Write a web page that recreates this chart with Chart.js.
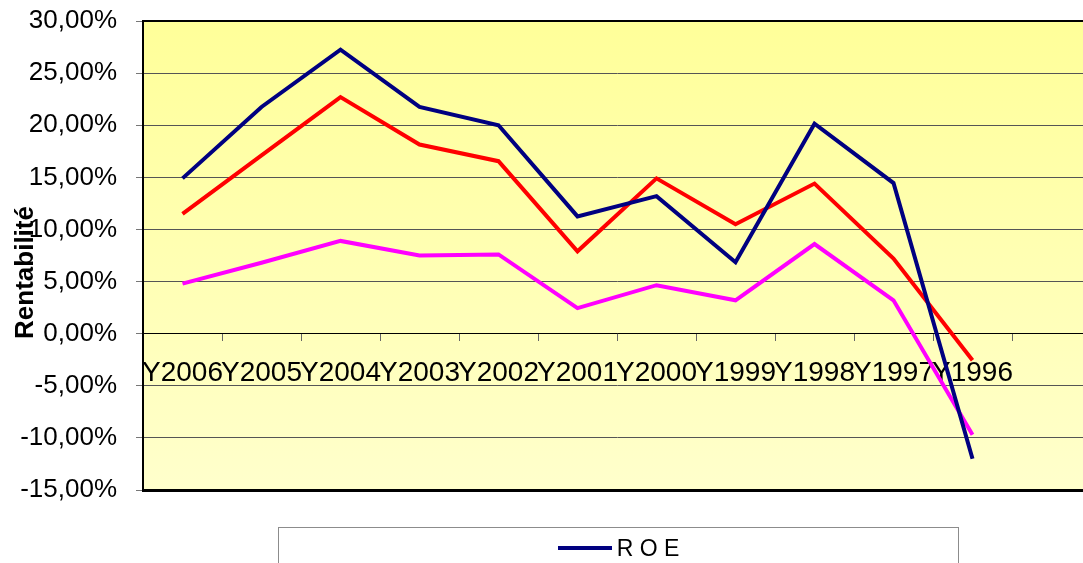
<!DOCTYPE html>
<html>
<head>
<meta charset="utf-8">
<script src="https://cdn.jsdelivr.net/npm/chart.js@4/dist/chart.umd.min.js"></script>
<style>
    html, body { margin: 0; padding: 0; background: #fff; overflow: hidden; }
    #wrap { position: relative; width: 1100px; height: 563px; }
    #legend {
        position: absolute; left: 278px; top: 527px; width: 681px; height: 110px;
        border: 1px solid #8c8c8c; box-sizing: border-box; padding-top: 7px;
        font-family: "Liberation Sans", Arial, sans-serif; font-size: 23px; color: #000;
    }
    .leg-row { display: flex; justify-content: center; align-items: center; height: 26px; }
    .leg-line { width: 54px; height: 4px; margin-right: 5px; }
</style>
</head>
<body>
<div id="wrap">
    <canvas id="chart"></canvas>
    <div id="legend"></div>
</div>
<script>
const categories = ['Y2006', 'Y2005', 'Y2004', 'Y2003', 'Y2002', 'Y2001', 'Y2000', 'Y1999', 'Y1998', 'Y1997', 'Y1996', ''];
const roe  = [14.9, 21.75, 27.25, 21.75, 20.0, 11.25, 13.2, 6.85, 20.15, 14.45, -12.0, null];
const roce = [11.5, 17.1, 22.7, 18.15, 16.55, 7.9, 14.9, 10.5, 14.4, 7.2, -2.55, null];
const roa  = [4.8, 6.8, 8.9, 7.5, 7.6, 2.45, 4.65, 3.2, 8.6, 3.2, -9.7, null];
const seriesNames = ['R O E', 'R O C E', 'R O A'];
const yMin = -15, yMax = 30, yStep = 5;
const axisTitle = 'Rentabilité';

const FONT = '"Liberation Sans", Arial, sans-serif';

const plotBackground = {
    id: 'plotBackground',
    beforeDraw(chart) {
        const { ctx, chartArea: a } = chart;
        const g = ctx.createLinearGradient(0, a.top, 0, a.bottom);
        g.addColorStop(0, '#ffff99');
        g.addColorStop(1, '#ffffcc');
        ctx.save();
        ctx.fillStyle = g;
        ctx.fillRect(a.left, a.top, a.right - a.left, a.bottom - a.top);
        ctx.restore();
    }
};

const plotFrame = {
    id: 'plotFrame',
    beforeDatasetsDraw(chart) {
        const { ctx, chartArea: a } = chart;
        ctx.save();
        ctx.strokeStyle = '#000';
        ctx.lineWidth = 2;
        ctx.strokeRect(a.left, a.top, a.right - a.left, a.bottom - a.top);
        ctx.lineWidth = 3;
        ctx.beginPath();
        ctx.moveTo(a.left - 1, a.bottom + 0.5);
        ctx.lineTo(a.right, a.bottom + 0.5);
        ctx.stroke();
        ctx.restore();
    },
    afterDraw(chart) {
        const { ctx, chartArea: a } = chart;
        ctx.save();
        ctx.font = 'bold 26px ' + FONT;
        ctx.fillStyle = '#000';
        ctx.textAlign = 'center';
        ctx.textBaseline = 'alphabetic';
        ctx.translate(33, (a.top + a.bottom) / 2 + 17);
        ctx.rotate(-Math.PI / 2);
        ctx.fillText(axisTitle, 0, 0);
        ctx.restore();
    }
};

const chart = new Chart(document.getElementById('chart'), {
    type: 'line',
    data: {
        labels: categories,
        datasets: [
            { label: seriesNames[0], data: roe, borderColor: '#000080' },
            { label: seriesNames[1], data: roce, borderColor: '#ff0000' },
            { label: seriesNames[2], data: roa, borderColor: '#ff00ff' }
        ].map(d => Object.assign(d, { borderWidth: 4, pointRadius: 0, tension: 0, fill: false, borderJoinStyle: 'miter' }))
    },
    options: {
        responsive: true,
        maintainAspectRatio: false,
        animation: false,
        layout: { padding: { left: 0, top: 21, right: 9, bottom: 73 } },
        plugins: { legend: { display: false }, tooltip: { enabled: false } },
        scales: {
            x: {
                type: 'category',
                position: { y: 0 },
                offset: true,
                afterFit: s => { s.paddingLeft = 0; s.paddingRight = 0; },
                grid: { offset: true, drawOnChartArea: false, drawTicks: true, tickLength: 7, tickColor: '#666' },
                border: { display: true, color: '#000', width: 1 },
                ticks: {
                    autoSkip: false, maxRotation: 0, minRotation: 0, padding: 16,
                    color: '#000', font: { family: FONT, size: 28 }
                }
            },
            y: {
                position: 'left',
                min: yMin, max: yMax,
                afterFit: s => { s.width = 143; s.paddingTop = 0; s.paddingBottom = 0; },
                grid: { color: '#555', lineWidth: 1, tickLength: 7, tickColor: '#777' },
                border: { display: true, color: '#000', width: 2 },
                ticks: {
                    stepSize: yStep, padding: 19, color: '#000',
                    font: { family: FONT, size: 26 },
                    callback: v => v.toFixed(2).replace('.', ',') + '%'
                }
            }
        }
    },
    plugins: [plotBackground, plotFrame]
});

document.getElementById('legend').innerHTML = chart.data.datasets.map(d => `
    <div class="leg-row">
        <span class="leg-line" style="background:${d.borderColor}"></span>
        <span>${d.label}</span>
    </div>
`).join('');
</script>
</body>
</html>
